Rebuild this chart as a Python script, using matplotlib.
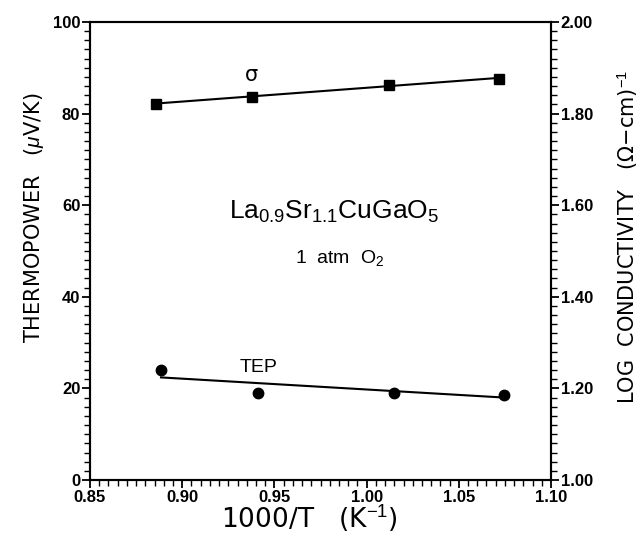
import matplotlib
matplotlib.use("Agg")
import matplotlib.pyplot as plt
from matplotlib.ticker import MultipleLocator, FormatStrFormatter

plt.rcParams['font.family'] = ['Liberation Sans', 'DejaVu Sans']
plt.rcParams['mathtext.fontset'] = 'custom'
plt.rcParams['mathtext.rm'] = 'Liberation Sans'
plt.rcParams['mathtext.it'] = 'Liberation Sans:italic'

# data
x_sigma = [0.886, 0.938, 1.012, 1.072]
log_sigma = [1.821, 1.837, 1.862, 1.876]
sigma_fit_x = [0.886, 1.072]
sigma_fit_y = [1.822, 1.878]

x_tep = [0.8885, 0.941, 1.015, 1.0747]
tep = [24.0, 19.1, 18.9, 18.6]
tep_fit_x = [0.8885, 1.0747]
tep_fit_y = [22.4, 18.0]

xticks = [0.85, 0.90, 0.95, 1.00, 1.05, 1.10]

fig = plt.figure(figsize=(6.4, 5.37), dpi=100)
ax = fig.add_axes([0.1406, 0.1061, 0.7204, 0.853])
ax2 = ax.twinx()

ax.plot(x_tep, tep, 'o', color='black', markersize=7.5)
ax.plot(tep_fit_x, tep_fit_y, '-', color='black', lw=1.5)
ax2.plot(x_sigma, log_sigma, 's', color='black', markersize=7.5)
ax2.plot(sigma_fit_x, sigma_fit_y, '-', color='black', lw=1.5)

ax.set_xlim(0.85, 1.10)
ax.set_ylim(0, 100)
ax2.set_ylim(1.00, 2.00)

ax.set_xticks(xticks)
ax.xaxis.set_major_formatter(FormatStrFormatter('%.2f'))
ax.xaxis.set_minor_locator(MultipleLocator(0.005))
ax.yaxis.set_major_locator(MultipleLocator(20))
ax.yaxis.set_minor_locator(MultipleLocator(2))
ax2.yaxis.set_major_locator(MultipleLocator(0.2))
ax2.yaxis.set_minor_locator(MultipleLocator(0.02))
ax2.yaxis.set_major_formatter(FormatStrFormatter('%.2f'))

for a in (ax, ax2):
    for s in a.spines.values():
        s.set_linewidth(1.5)
    a.tick_params(which='major', direction='out', length=6, width=1.3,
                  labelsize=12, pad=1)
    a.tick_params(which='minor', direction='out', length=4, width=1.0)
for lab in ax.get_xticklabels() + ax.get_yticklabels() + ax2.get_yticklabels():
    lab.set_fontweight('bold')

lab_font = ['DejaVu Sans']
ax.set_ylabel(r'THERMOPOWER   ($\mu$V/K)', fontsize=15, family=lab_font)
ax.yaxis.label.set_rotation_mode('default')
ax.yaxis.label.set_va('center')
ax.yaxis.set_label_coords(-0.121, 0.572)

ax2.set_ylabel('LOG  CONDUCTIVITY   (\u03a9\u2212cm)$^{-1}$', fontsize=15,
               family=lab_font)
ax2.yaxis.label.set_rotation_mode('default')
ax2.yaxis.label.set_va('center')
ax2.yaxis.set_label_coords(1.165, 0.53)

ax.set_xlabel('1000/T   (K$^{-1}$)', fontsize=19, family=lab_font)
ax.xaxis.label.set_va('center')
ax.xaxis.set_label_coords(0.475, -0.087)

ax.text(0.9375, 88.5, '\u03c3', fontsize=15, ha='center', va='center',
        family='DejaVu Sans')
ax.text(0.9415, 24.5, 'TEP', fontsize=14, ha='center', va='center')
ax.text(0.9825, 58.5, r'La$_{0.9}$Sr$_{1.1}$CuGaO$_5$', fontsize=19, ha='center', va='center')
ax.text(0.9855, 48.5, r'1  atm  O$_2$', fontsize=14, ha='center', va='center')

fig.savefig('out.png', dpi=100)
